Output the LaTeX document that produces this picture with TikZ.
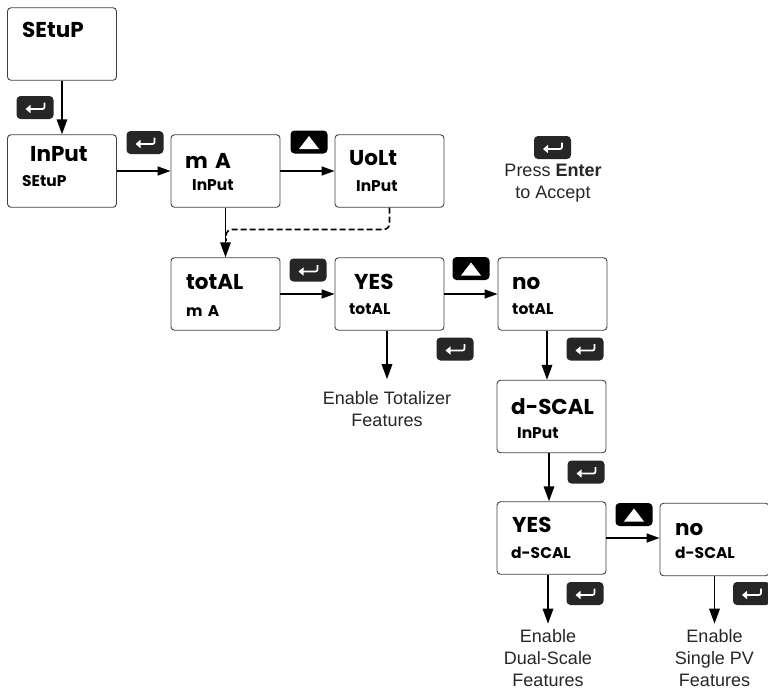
\documentclass[tikz,border=0pt]{standalone}
\usepackage{fontspec}
\setmainfont{Liberation Sans}
\newfontfamily\segfont{Poppins}[BoldFont=* Bold]
\usetikzlibrary{arrows.meta}
\tikzset{
    dispbox/.style={draw=black!75, line width=0.9pt, rounded corners=3.5pt, minimum width=109pt, minimum height=72.5pt, inner sep=0pt},
    bigtxt/.style={anchor=west, inner sep=0pt, font=\segfont\bfseries\fontsize{21.5}{22}\selectfont},
    smalltxt/.style={anchor=west, inner sep=0pt, font=\segfont\bfseries\fontsize{15.5}{16}\selectfont},
    keybox/.style={fill=black!85, rounded corners=4pt, minimum width=37pt, minimum height=23pt, inner sep=0pt},
    note/.style={align=center, inner sep=0pt, font=\fontsize{18}{22}\selectfont, text=black!85},
    flow/.style={line width=1.5pt, -{Triangle[length=13pt,width=9pt]}},
    drop/.style={line width=1.7pt, -{Triangle[length=15pt,width=10.5pt]}}
}
\begin{document}
\begin{tikzpicture}[x=1pt, y=-1pt]
    \useasboundingbox (0,0) rectangle (768,689);
    % display boxes
    \foreach \n/\x/\y in {setup/62/44, input/62/171, ma/225.5/171, volt/389.5/171, total/225.5/294, yesa/389.5/294, noa/552.5/294, dscal/551.5/416.5, yesb/551.5/538, nob/714.5/539.5}
    {
        \node[dispbox] (\n) at (\x,\y) {};
    }
    % display texts
    \node[bigtxt] (setupa) at (22,30) {SEtuP};
    \node[bigtxt] (inputa) at (30,154) {InPut};
    \node[smalltxt] (inputb) at (22,181) {SEtuP};
    \node[bigtxt] (maa) at (185,161) {m\,\,A};
    \node[smalltxt] (mab) at (192,185) {InPut};
    \node[bigtxt] (volta) at (349,158) {UoLt};
    \node[smalltxt] (voltb) at (356,186) {InPut};
    \node[bigtxt] (totala) at (186,282) {totAL};
    \node[smalltxt] (totalb) at (186,311) {m\,\,A};
    \node[bigtxt] (yesaa) at (354,282) {YES};
    \node[smalltxt] (yesab) at (349,309) {totAL};
    \node[bigtxt] (noaa) at (512,283) {no};
    \node[smalltxt] (noab) at (512,309) {totAL};
    \node[bigtxt] (dscala) at (511,407) {d-SCAL};
    \node[smalltxt] (dscalb) at (517,433) {InPut};
    \node[bigtxt] (yesba) at (512,525) {YES};
    \node[smalltxt] (yesbb) at (511,553) {d-SCAL};
    \node[bigtxt] (noba) at (675,529) {no};
    \node[smalltxt] (nobb) at (675,553) {d-SCAL};
    % enter keys
    \foreach \n/\x/\y in {enta/35/107.5, entb/145/142.5, entc/552.5/147.5, entd/308/270, ente/455/349, entf/585/349, entg/586/472, enth/585/593.5, enti/751.5/593.5}
    {
        \node[keybox] (\n) at (\x,\y) {};
        \draw[white, line width=1.7pt, rounded corners=2pt, -{Triangle[length=5pt,width=8pt]}] ([shift={(9.5,-5)}]\n.center) -- ([shift={(9.5,1.5)}]\n.center) -- ([shift={(-9.5,1.5)}]\n.center);
    }
    % up keys
    \foreach \n/\x/\y in {upa/309/142, upb/471/268.5, upc/634/514.5}
    {
        \node[keybox, fill=black] (\n) at (\x,\y) {};
        \fill[white] ([shift={(0,-6)}]\n.center) -- ([shift={(10,7)}]\n.center) -- ([shift={(-10,7)}]\n.center) -- cycle;
    }
    % notes
    \node[note] (press) at (553,183) {Press \textbf{Enter}\\to Accept};
    \node[note] (tot) at (387,409) {Enable Totalizer\\Features};
    \node[note] (dual) at (548,658.5) {Enable\\Dual-Scale\\Features};
    \node[note] (single) at (714.5,658.5) {Enable\\Single PV\\Features};
    % connectors
    \draw[drop] (setup) -- (input);
    \draw[flow] (input) -- (ma);
    \draw[flow] (ma) -- (volt);
    \draw[drop] (ma) -- (total);
    \coordinate (dashend) at (226,241);
    \draw[line width=1.6pt, dash pattern=on 6pt off 3pt, rounded corners=6pt] (volt.south) |- (dashend |- 0,229.5) -- (dashend);
    \draw[flow] (total) -- (yesa);
    \draw[flow] (yesa) -- (noa);
    \draw[drop, shorten >=12pt] ([xshift=-2.5pt]yesa.south) -- ([xshift=-2.5pt]yesa.south |- tot.north);
    \draw[drop] ([xshift=-5.5pt]noa.south) -- ([xshift=-5.5pt]noa.south |- dscal.north);
    \draw[drop] ([xshift=-2.5pt]dscal.south) -- ([xshift=-2.5pt]dscal.south |- yesb.north);
    \draw[flow] (yesb.east) -- (yesb.east -| nob.west);
    \draw[drop, shorten >=6pt] ([xshift=-3.5pt]yesb.south) -- ([xshift=-3.5pt]yesb.south |- dual.north);
    \draw[drop, shorten >=6pt] (nob) -- (single);
\end{tikzpicture}
\end{document}
